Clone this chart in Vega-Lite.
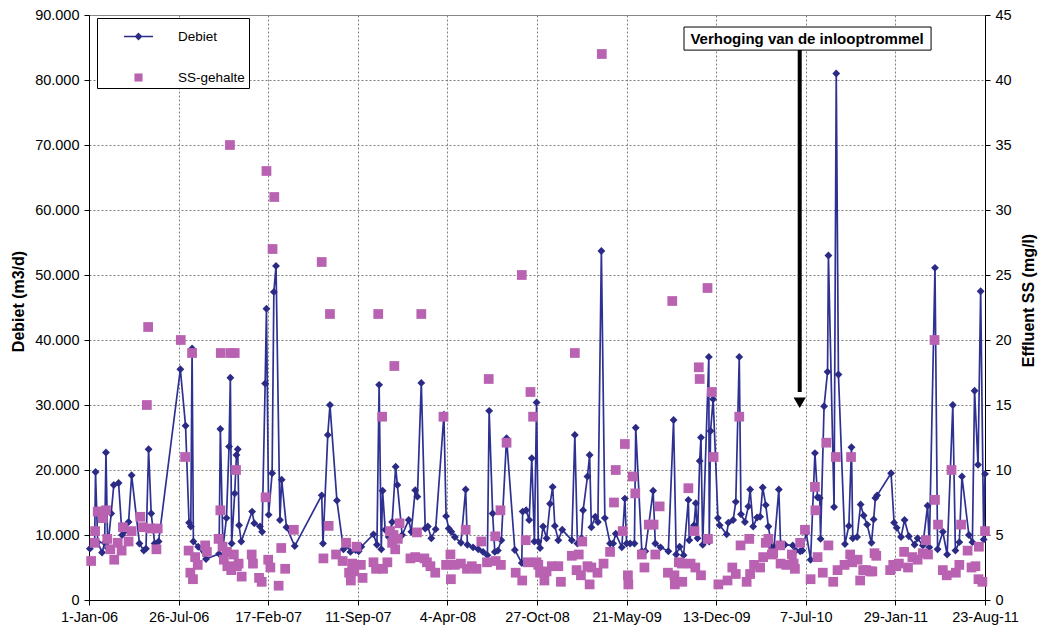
{
"$schema": "https://vega.github.io/schema/vega-lite/v6.json",
"width": 896, "height": 585,
"autosize": {"type": "none"},
"padding": {"left": 89, "top": 15, "right": 53, "bottom": 30},
"background": "white",
"config": {
  "font": "Liberation Sans",
  "view": {"stroke": "#8c8c8c", "strokeWidth": 1},
  "axis": {"labelFont": "Liberation Sans", "titleFont": "Liberation Sans", "labelColor": "black", "titleColor": "black", "domainColor": "black", "tickColor": "black", "labelFontSize": 14.5, "titleFontSize": 16, "titleFontWeight": "bold", "gridColor": "#808080", "gridDash": [2, 2], "gridWidth": 1, "tickSize": 5, "labelPadding": 5, "domainWidth": 1}
},
"datasets": {
"debiet": [
{"datum":"2006-01-03","debiet":7900},{"datum":"2006-01-14","debiet":8700},{"datum":"2006-01-16","debiet":19700},{"datum":"2006-01-21","debiet":8900},{"datum":"2006-01-31","debiet":7300},{"datum":"2006-02-06","debiet":8800},{"datum":"2006-02-09","debiet":22700},{"datum":"2006-02-13","debiet":8000},{"datum":"2006-02-21","debiet":13300},{"datum":"2006-02-27","debiet":17700},{"datum":"2006-03-10","debiet":18000},{"datum":"2006-03-18","debiet":10000},{"datum":"2006-03-23","debiet":10500},{"datum":"2006-04-02","debiet":12000},{"datum":"2006-04-09","debiet":19200},{"datum":"2006-04-27","debiet":8700},{"datum":"2006-05-07","debiet":7600},{"datum":"2006-05-12","debiet":7900},{"datum":"2006-05-18","debiet":23200},{"datum":"2006-05-24","debiet":13300},{"datum":"2006-06-01","debiet":8700},{"datum":"2006-06-10","debiet":9000},{"datum":"2006-07-30","debiet":35500},{"datum":"2006-08-11","debiet":26800},{"datum":"2006-08-19","debiet":11900},{"datum":"2006-08-23","debiet":11300},{"datum":"2006-08-26","debiet":38700},{"datum":"2006-08-29","debiet":9000},{"datum":"2006-09-09","debiet":8200},{"datum":"2006-09-27","debiet":6300},{"datum":"2006-10-27","debiet":7100},{"datum":"2006-10-30","debiet":26300},{"datum":"2006-11-05","debiet":8000},{"datum":"2006-11-13","debiet":12600},{"datum":"2006-11-19","debiet":23600},{"datum":"2006-11-22","debiet":34200},{"datum":"2006-11-25","debiet":8700},{"datum":"2006-12-02","debiet":16400},{"datum":"2006-12-06","debiet":22300},{"datum":"2006-12-09","debiet":23200},{"datum":"2006-12-12","debiet":11500},{"datum":"2006-12-17","debiet":9000},
{"datum":"2007-01-11","debiet":13600},{"datum":"2007-01-16","debiet":11800},{"datum":"2007-01-29","debiet":11300},{"datum":"2007-02-03","debiet":10500},{"datum":"2007-02-10","debiet":33300},{"datum":"2007-02-13","debiet":44800},{"datum":"2007-02-18","debiet":13100},{"datum":"2007-02-26","debiet":19500},{"datum":"2007-03-02","debiet":47400},{"datum":"2007-03-07","debiet":51400},{"datum":"2007-03-16","debiet":12300},{"datum":"2007-03-20","debiet":18500},{"datum":"2007-03-31","debiet":11200},{"datum":"2007-04-19","debiet":8300},{"datum":"2007-06-20","debiet":16100},{"datum":"2007-06-23","debiet":8700},{"datum":"2007-07-04","debiet":25400},{"datum":"2007-07-09","debiet":30000},{"datum":"2007-07-25","debiet":15300},{"datum":"2007-08-09","debiet":7800},{"datum":"2007-08-18","debiet":8400},{"datum":"2007-08-25","debiet":7400},{"datum":"2007-09-06","debiet":7700},{"datum":"2007-09-13","debiet":7500},{"datum":"2007-09-19","debiet":8200},{"datum":"2007-10-17","debiet":10100},{"datum":"2007-10-25","debiet":8500},{"datum":"2007-10-30","debiet":33100},{"datum":"2007-11-04","debiet":7800},{"datum":"2007-11-07","debiet":16800},{"datum":"2007-11-13","debiet":10800},{"datum":"2007-11-21","debiet":9700},{"datum":"2007-11-29","debiet":12000},{"datum":"2007-12-07","debiet":20500},{"datum":"2007-12-11","debiet":17700},{"datum":"2007-12-22","debiet":10000},
{"datum":"2008-01-06","debiet":12300},{"datum":"2008-01-12","debiet":10500},{"datum":"2008-01-21","debiet":16900},{"datum":"2008-01-26","debiet":15900},{"datum":"2008-02-04","debiet":33400},{"datum":"2008-02-13","debiet":11000},{"datum":"2008-02-19","debiet":11300},{"datum":"2008-02-27","debiet":9500},{"datum":"2008-03-08","debiet":10900},{"datum":"2008-03-27","debiet":28500},{"datum":"2008-04-01","debiet":12900},{"datum":"2008-04-07","debiet":11000},{"datum":"2008-04-13","debiet":10500},{"datum":"2008-04-21","debiet":9700},{"datum":"2008-05-05","debiet":8800},{"datum":"2008-05-16","debiet":17000},{"datum":"2008-05-20","debiet":8500},{"datum":"2008-06-02","debiet":8100},{"datum":"2008-06-14","debiet":7800},{"datum":"2008-06-25","debiet":7400},{"datum":"2008-07-05","debiet":6900},{"datum":"2008-07-09","debiet":29100},{"datum":"2008-07-17","debiet":13300},{"datum":"2008-07-22","debiet":7400},{"datum":"2008-07-29","debiet":7600},{"datum":"2008-08-06","debiet":9200},{"datum":"2008-08-18","debiet":24900},{"datum":"2008-09-06","debiet":7700},{"datum":"2008-09-22","debiet":5700},{"datum":"2008-09-24","debiet":13600},{"datum":"2008-10-02","debiet":13800},{"datum":"2008-10-09","debiet":12300},{"datum":"2008-10-15","debiet":21800},{"datum":"2008-10-21","debiet":9000},{"datum":"2008-10-26","debiet":30400},{"datum":"2008-10-30","debiet":9000},{"datum":"2008-11-03","debiet":8000},{"datum":"2008-11-10","debiet":11300},{"datum":"2008-11-18","debiet":9500},{"datum":"2008-11-26","debiet":14800},{"datum":"2008-12-02","debiet":17400},{"datum":"2008-12-07","debiet":11400},{"datum":"2008-12-15","debiet":9200},{"datum":"2008-12-24","debiet":10800},
{"datum":"2009-01-15","debiet":9200},{"datum":"2009-01-22","debiet":25400},{"datum":"2009-01-28","debiet":8700},{"datum":"2009-02-06","debiet":9500},{"datum":"2009-02-10","debiet":13800},{"datum":"2009-02-20","debiet":19000},{"datum":"2009-02-25","debiet":22300},{"datum":"2009-03-01","debiet":11200},{"datum":"2009-03-10","debiet":12800},{"datum":"2009-03-16","debiet":12000},{"datum":"2009-03-24","debiet":53700},{"datum":"2009-04-01","debiet":12600},{"datum":"2009-04-13","debiet":8700},{"datum":"2009-04-20","debiet":8700},{"datum":"2009-04-26","debiet":10200},{"datum":"2009-05-10","debiet":8100},{"datum":"2009-05-17","debiet":15600},{"datum":"2009-05-21","debiet":8700},{"datum":"2009-05-29","debiet":8700},{"datum":"2009-06-08","debiet":8700},{"datum":"2009-06-11","debiet":26500},{"datum":"2009-06-25","debiet":7500},{"datum":"2009-07-03","debiet":7500},{"datum":"2009-07-21","debiet":16800},{"datum":"2009-07-26","debiet":8700},{"datum":"2009-08-07","debiet":8100},{"datum":"2009-08-25","debiet":7500},{"datum":"2009-09-06","debiet":27700},{"datum":"2009-09-12","debiet":7000},{"datum":"2009-09-20","debiet":8200},{"datum":"2009-09-29","debiet":6900},{"datum":"2009-10-10","debiet":15400},{"datum":"2009-10-12","debiet":9200},{"datum":"2009-10-23","debiet":11500},{"datum":"2009-10-27","debiet":14900},{"datum":"2009-10-31","debiet":9500},{"datum":"2009-11-05","debiet":21400},{"datum":"2009-11-08","debiet":25000},{"datum":"2009-11-12","debiet":8500},{"datum":"2009-11-26","debiet":37400},{"datum":"2009-11-27","debiet":9000},{"datum":"2009-11-30","debiet":26000},{"datum":"2009-12-06","debiet":30900},{"datum":"2009-12-17","debiet":12600},{"datum":"2009-12-21","debiet":11500},
{"datum":"2010-01-06","debiet":10100},{"datum":"2010-01-10","debiet":11900},{"datum":"2010-01-21","debiet":12300},{"datum":"2010-01-27","debiet":15100},{"datum":"2010-02-04","debiet":37400},{"datum":"2010-02-08","debiet":13200},{"datum":"2010-02-17","debiet":12000},{"datum":"2010-02-25","debiet":14400},{"datum":"2010-03-01","debiet":17000},{"datum":"2010-03-08","debiet":11300},{"datum":"2010-03-17","debiet":12700},{"datum":"2010-03-24","debiet":12800},{"datum":"2010-03-30","debiet":17300},{"datum":"2010-04-06","debiet":14600},{"datum":"2010-04-12","debiet":11300},{"datum":"2010-04-20","debiet":8000},{"datum":"2010-04-25","debiet":8200},{"datum":"2010-05-06","debiet":17000},{"datum":"2010-05-10","debiet":8700},{"datum":"2010-05-20","debiet":8500},{"datum":"2010-06-07","debiet":8400},{"datum":"2010-06-14","debiet":7600},{"datum":"2010-06-24","debiet":7500},{"datum":"2010-06-29","debiet":7600},{"datum":"2010-07-08","debiet":10300},{"datum":"2010-07-18","debiet":6200},{"datum":"2010-07-28","debiet":22600},{"datum":"2010-08-03","debiet":15800},{"datum":"2010-08-08","debiet":15700},{"datum":"2010-08-10","debiet":9400},{"datum":"2010-08-18","debiet":29800},{"datum":"2010-08-26","debiet":35100},{"datum":"2010-08-28","debiet":53000},{"datum":"2010-09-10","debiet":14300},{"datum":"2010-09-15","debiet":81000},{"datum":"2010-09-20","debiet":34700},{"datum":"2010-10-05","debiet":8600},{"datum":"2010-10-14","debiet":11400},{"datum":"2010-10-20","debiet":23500},{"datum":"2010-10-23","debiet":9500},{"datum":"2010-11-02","debiet":9700},{"datum":"2010-11-10","debiet":14700},{"datum":"2010-11-17","debiet":13000},{"datum":"2010-11-25","debiet":11600},{"datum":"2010-12-05","debiet":8800},{"datum":"2010-12-10","debiet":12400},{"datum":"2010-12-14","debiet":15700},{"datum":"2010-12-18","debiet":16100},
{"datum":"2011-01-19","debiet":19500},{"datum":"2011-01-26","debiet":11900},{"datum":"2011-02-01","debiet":11100},{"datum":"2011-02-11","debiet":9700},{"datum":"2011-02-19","debiet":12300},{"datum":"2011-03-01","debiet":9800},{"datum":"2011-03-14","debiet":8500},{"datum":"2011-03-21","debiet":9500},{"datum":"2011-04-02","debiet":8400},{"datum":"2011-04-13","debiet":14500},{"datum":"2011-04-17","debiet":8100},{"datum":"2011-04-30","debiet":51100},{"datum":"2011-05-06","debiet":7800},{"datum":"2011-05-18","debiet":10500},{"datum":"2011-05-28","debiet":7000},{"datum":"2011-06-10","debiet":30000},{"datum":"2011-06-16","debiet":7600},{"datum":"2011-06-25","debiet":8900},{"datum":"2011-07-01","debiet":19000},{"datum":"2011-07-17","debiet":10000},{"datum":"2011-07-25","debiet":8900},{"datum":"2011-07-30","debiet":32200},{"datum":"2011-08-07","debiet":20800},{"datum":"2011-08-13","debiet":47500},{"datum":"2011-08-20","debiet":9300},{"datum":"2011-08-23","debiet":19400}
],
"ss": [
{"datum":"2006-01-06","ss":3.0},{"datum":"2006-01-14","ss":4.4},{"datum":"2006-01-15","ss":5.3},{"datum":"2006-01-21","ss":6.8},{"datum":"2006-01-31","ss":6.8},{"datum":"2006-02-02","ss":6.3},{"datum":"2006-02-09","ss":6.9},{"datum":"2006-02-12","ss":4.7},{"datum":"2006-02-19","ss":3.9},{"datum":"2006-02-28","ss":3.1},{"datum":"2006-03-08","ss":4.4},{"datum":"2006-03-17","ss":3.8},{"datum":"2006-03-20","ss":5.6},{"datum":"2006-04-02","ss":4.5},{"datum":"2006-04-09","ss":5.3},{"datum":"2006-04-29","ss":6.4},{"datum":"2006-05-05","ss":5.6},{"datum":"2006-05-14","ss":15.0},{"datum":"2006-05-17","ss":21.0},{"datum":"2006-05-22","ss":5.5},{"datum":"2006-06-05","ss":3.9},{"datum":"2006-06-08","ss":5.5},{"datum":"2006-07-31","ss":20.0},{"datum":"2006-08-10","ss":11.0},{"datum":"2006-08-18","ss":3.8},{"datum":"2006-08-22","ss":2.1},{"datum":"2006-08-26","ss":19.0},{"datum":"2006-08-28","ss":1.6},{"datum":"2006-09-02","ss":3.3},{"datum":"2006-09-08","ss":2.7},{"datum":"2006-09-25","ss":4.2},{"datum":"2006-09-29","ss":3.7},{"datum":"2006-10-26","ss":4.7},{"datum":"2006-10-30","ss":6.9},{"datum":"2006-10-31","ss":19.0},{"datum":"2006-11-04","ss":4.1},{"datum":"2006-11-07","ss":3.1},{"datum":"2006-11-14","ss":3.7},{"datum":"2006-11-15","ss":2.6},{"datum":"2006-11-21","ss":35.0},{"datum":"2006-11-23","ss":19.0},{"datum":"2006-11-24","ss":2.3},{"datum":"2006-11-30","ss":3.5},{"datum":"2006-12-02","ss":19.0},{"datum":"2006-12-05","ss":10.0},{"datum":"2006-12-07","ss":2.6},{"datum":"2006-12-11","ss":2.8},{"datum":"2006-12-18","ss":1.8},
{"datum":"2007-01-10","ss":3.5},{"datum":"2007-01-13","ss":2.8},{"datum":"2007-01-27","ss":1.7},{"datum":"2007-02-02","ss":1.4},{"datum":"2007-02-11","ss":7.9},{"datum":"2007-02-13","ss":33.0},{"datum":"2007-02-17","ss":3.1},{"datum":"2007-02-22","ss":2.5},{"datum":"2007-02-27","ss":27.0},{"datum":"2007-03-03","ss":31.0},{"datum":"2007-03-13","ss":1.1},{"datum":"2007-03-19","ss":4.0},{"datum":"2007-03-28","ss":2.4},{"datum":"2007-04-17","ss":5.4},{"datum":"2007-06-20","ss":26.0},{"datum":"2007-06-24","ss":3.2},{"datum":"2007-07-06","ss":5.7},{"datum":"2007-07-09","ss":22.0},{"datum":"2007-07-23","ss":3.5},{"datum":"2007-08-07","ss":3.0},{"datum":"2007-08-15","ss":4.4},{"datum":"2007-08-22","ss":2.1},{"datum":"2007-08-26","ss":1.5},{"datum":"2007-08-29","ss":2.8},{"datum":"2007-09-03","ss":2.2},{"datum":"2007-09-08","ss":4.1},{"datum":"2007-09-18","ss":2.7},{"datum":"2007-09-22","ss":1.7},{"datum":"2007-10-17","ss":2.9},{"datum":"2007-10-23","ss":2.4},{"datum":"2007-10-28","ss":22.0},{"datum":"2007-11-06","ss":14.1},{"datum":"2007-11-08","ss":2.4},{"datum":"2007-11-18","ss":2.9},{"datum":"2007-11-24","ss":5.3},{"datum":"2007-11-29","ss":4.4},{"datum":"2007-12-02","ss":5.0},{"datum":"2007-12-04","ss":18.0},{"datum":"2007-12-06","ss":3.9},{"datum":"2007-12-12","ss":4.7},{"datum":"2007-12-16","ss":5.9},
{"datum":"2008-01-10","ss":3.2},{"datum":"2008-01-21","ss":3.3},{"datum":"2008-01-25","ss":5.2},{"datum":"2008-02-04","ss":22.0},{"datum":"2008-02-11","ss":3.2},{"datum":"2008-02-17","ss":2.9},{"datum":"2008-02-25","ss":2.6},{"datum":"2008-03-07","ss":2.1},{"datum":"2008-03-26","ss":14.1},{"datum":"2008-04-01","ss":2.7},{"datum":"2008-04-11","ss":3.5},{"datum":"2008-04-12","ss":1.6},{"datum":"2008-04-21","ss":2.7},{"datum":"2008-05-05","ss":2.8},{"datum":"2008-05-16","ss":5.4},{"datum":"2008-05-19","ss":2.4},{"datum":"2008-05-30","ss":2.6},{"datum":"2008-06-10","ss":2.4},{"datum":"2008-06-21","ss":4.5},{"datum":"2008-07-04","ss":2.9},{"datum":"2008-07-08","ss":17.0},{"datum":"2008-07-23","ss":4.9},{"datum":"2008-07-24","ss":3.0},{"datum":"2008-08-04","ss":6.9},{"datum":"2008-08-05","ss":2.7},{"datum":"2008-08-18","ss":12.1},{"datum":"2008-09-08","ss":2.1},{"datum":"2008-09-22","ss":25.0},{"datum":"2008-09-23","ss":1.5},{"datum":"2008-10-01","ss":4.6},{"datum":"2008-10-06","ss":2.9},{"datum":"2008-10-12","ss":16.0},{"datum":"2008-10-18","ss":14.1},{"datum":"2008-10-26","ss":2.9},{"datum":"2008-10-30","ss":2.7},{"datum":"2008-11-03","ss":2.1},{"datum":"2008-11-13","ss":1.5},{"datum":"2008-11-18","ss":2.2},{"datum":"2008-11-30","ss":2.6},{"datum":"2008-12-15","ss":2.6},{"datum":"2008-12-21","ss":1.4},
{"datum":"2009-01-15","ss":3.4},{"datum":"2009-01-22","ss":19.0},{"datum":"2009-01-26","ss":2.3},{"datum":"2009-01-31","ss":3.5},{"datum":"2009-02-05","ss":1.9},{"datum":"2009-02-08","ss":4.5},{"datum":"2009-02-20","ss":2.6},{"datum":"2009-02-25","ss":1.2},{"datum":"2009-03-01","ss":2.5},{"datum":"2009-03-15","ss":2.1},{"datum":"2009-03-25","ss":42.0},{"datum":"2009-03-29","ss":2.8},{"datum":"2009-04-13","ss":3.7},{"datum":"2009-04-22","ss":7.5},{"datum":"2009-04-26","ss":10.0},{"datum":"2009-05-12","ss":5.3},{"datum":"2009-05-17","ss":12.0},{"datum":"2009-05-24","ss":1.9},{"datum":"2009-05-25","ss":1.2},{"datum":"2009-06-04","ss":9.5},{"datum":"2009-06-10","ss":8.2},{"datum":"2009-06-25","ss":3.5},{"datum":"2009-07-01","ss":2.5},{"datum":"2009-07-11","ss":5.8},{"datum":"2009-07-22","ss":5.8},{"datum":"2009-07-26","ss":3.5},{"datum":"2009-08-05","ss":7.2},{"datum":"2009-08-24","ss":2.1},{"datum":"2009-09-03","ss":23.0},{"datum":"2009-09-08","ss":1.9},{"datum":"2009-09-09","ss":1.2},{"datum":"2009-09-18","ss":2.9},{"datum":"2009-09-25","ss":2.8},{"datum":"2009-09-26","ss":1.4},{"datum":"2009-10-10","ss":8.6},{"datum":"2009-10-15","ss":2.8},{"datum":"2009-10-24","ss":5.3},{"datum":"2009-10-26","ss":2.5},{"datum":"2009-11-03","ss":17.9},{"datum":"2009-11-05","ss":17.0},{"datum":"2009-11-08","ss":1.9},{"datum":"2009-11-23","ss":24.0},{"datum":"2009-11-24","ss":4.7},{"datum":"2009-12-03","ss":16.0},{"datum":"2009-12-07","ss":11.0},{"datum":"2009-12-18","ss":1.2},
{"datum":"2010-01-08","ss":1.5},{"datum":"2010-01-19","ss":2.5},{"datum":"2010-01-27","ss":2.0},{"datum":"2010-02-04","ss":14.1},{"datum":"2010-02-07","ss":4.2},{"datum":"2010-02-21","ss":1.4},{"datum":"2010-02-27","ss":4.7},{"datum":"2010-03-01","ss":2.0},{"datum":"2010-03-10","ss":2.7},{"datum":"2010-03-24","ss":2.5},{"datum":"2010-03-31","ss":3.3},{"datum":"2010-04-06","ss":4.4},{"datum":"2010-04-12","ss":4.7},{"datum":"2010-04-20","ss":3.5},{"datum":"2010-04-23","ss":3.6},{"datum":"2010-05-09","ss":4.2},{"datum":"2010-05-10","ss":2.8},{"datum":"2010-05-23","ss":2.7},{"datum":"2010-06-05","ss":3.5},{"datum":"2010-06-09","ss":2.8},{"datum":"2010-06-12","ss":2.4},{"datum":"2010-06-24","ss":4.4},{"datum":"2010-07-05","ss":5.4},{"datum":"2010-07-18","ss":1.6},{"datum":"2010-07-28","ss":8.7},{"datum":"2010-07-29","ss":6.9},{"datum":"2010-08-03","ss":3.3},{"datum":"2010-08-15","ss":2.1},{"datum":"2010-08-23","ss":12.1},{"datum":"2010-08-28","ss":4.2},{"datum":"2010-09-08","ss":1.4},{"datum":"2010-09-14","ss":11.0},{"datum":"2010-09-18","ss":2.3},{"datum":"2010-10-04","ss":2.7},{"datum":"2010-10-17","ss":3.5},{"datum":"2010-10-19","ss":11.0},{"datum":"2010-10-22","ss":2.9},{"datum":"2010-11-03","ss":3.1},{"datum":"2010-11-09","ss":1.5},{"datum":"2010-11-16","ss":2.3},{"datum":"2010-11-23","ss":2.3},{"datum":"2010-12-02","ss":2.2},{"datum":"2010-12-07","ss":2.2},{"datum":"2010-12-12","ss":3.6},{"datum":"2010-12-16","ss":3.4},
{"datum":"2011-01-17","ss":2.3},{"datum":"2011-01-24","ss":2.7},{"datum":"2011-01-31","ss":2.6},{"datum":"2011-02-06","ss":2.8},{"datum":"2011-02-18","ss":3.7},{"datum":"2011-02-27","ss":2.5},{"datum":"2011-03-09","ss":3.3},{"datum":"2011-03-21","ss":3.1},{"datum":"2011-04-02","ss":3.6},{"datum":"2011-04-09","ss":4.6},{"datum":"2011-04-14","ss":3.5},{"datum":"2011-04-29","ss":20.0},{"datum":"2011-04-30","ss":7.7},{"datum":"2011-05-07","ss":5.8},{"datum":"2011-05-18","ss":2.3},{"datum":"2011-05-27","ss":1.9},{"datum":"2011-06-07","ss":10.0},{"datum":"2011-06-17","ss":2.1},{"datum":"2011-06-25","ss":2.7},{"datum":"2011-06-29","ss":5.8},{"datum":"2011-07-14","ss":3.8},{"datum":"2011-07-23","ss":2.5},{"datum":"2011-08-01","ss":2.6},{"datum":"2011-08-08","ss":1.6},{"datum":"2011-08-09","ss":4.1},{"datum":"2011-08-17","ss":1.4},{"datum":"2011-08-23","ss":5.3}
],
"pijl": [{"datum":"2010-06-23","debiet":84600,"debiet_tot":32000}],
"punt": [{"datum":"2010-06-23","debiet":30350}],
"kader": [{"datum":"2009-09-30","datum_tot":"2011-04-21","debiet":84600,"debiet_tot":88150}],
"tekst": [{"datum":"2010-07-10","debiet":86350,"tekst":"Verhoging van de inlooptrommel"}],
"legenda": [{"datum":"1990-01-01","debiet":0,"reeks":"Debiet"},{"datum":"1990-01-01","debiet":0,"reeks":"SS-gehalte"}]
},
"layer": [
{
"layer": [
{"data": {"name": "debiet"}, "mark": {"type": "line", "color": "#2E3192", "strokeWidth": 1.7},
 "encoding": {
  "x": {"field": "datum", "type": "temporal", "title": null, "scale": {"type": "utc", "domain": [{"year": 2006, "month": 1, "date": 1, "utc": true}, {"year": 2011, "month": 8, "date": 23, "utc": true}]},
        "axis": {"values": [{"year": 2006, "month": 1, "date": 1, "utc": true}, {"year": 2006, "month": 7, "date": 26, "utc": true}, {"year": 2007, "month": 2, "date": 17, "utc": true}, {"year": 2007, "month": 9, "date": 11, "utc": true}, {"year": 2008, "month": 4, "date": 4, "utc": true}, {"year": 2008, "month": 10, "date": 27, "utc": true}, {"year": 2009, "month": 5, "date": 21, "utc": true}, {"year": 2009, "month": 12, "date": 13, "utc": true}, {"year": 2010, "month": 7, "date": 7, "utc": true}, {"year": 2011, "month": 1, "date": 29, "utc": true}, {"year": 2011, "month": 8, "date": 23, "utc": true}], "format": "%-d-%b-%y", "labelFlush": false, "labelOverlap": false, "grid": true, "title": null}},
  "y": {"field": "debiet", "type": "quantitative", "title": "Debiet (m3/d)", "scale": {"domain": [0, 90000]},
        "axis": {"orient": "left", "values": [0, 10000, 20000, 30000, 40000, 50000, 60000, 70000, 80000, 90000], "labelExpr": "replace(format(datum.value, ','), ',', '.')", "grid": true, "title": "Debiet (m3/d)", "titleAngle": -90, "titleX": -71, "titleY": 286, "titleAlign": "center", "titleBaseline": "middle"}}
 }},
{"data": {"name": "debiet"}, "mark": {"type": "point", "shape": "diamond", "filled": true, "color": "#2B2B86", "size": 62, "opacity": 1},
 "encoding": {"x": {"field": "datum", "type": "temporal", "title": null}, "y": {"field": "debiet", "type": "quantitative", "title": "Debiet (m3/d)"}}},
{"data": {"name": "pijl"}, "mark": {"type": "rule", "color": "black", "strokeWidth": 4},
 "encoding": {"x": {"field": "datum", "type": "temporal", "title": null}, "y": {"field": "debiet", "type": "quantitative", "title": "Debiet (m3/d)"}, "y2": {"field": "debiet_tot"}}},
{"data": {"name": "punt"}, "mark": {"type": "point", "shape": "triangle-down", "filled": true, "color": "black", "size": 150, "opacity": 1},
 "encoding": {"x": {"field": "datum", "type": "temporal", "title": null}, "y": {"field": "debiet", "type": "quantitative", "title": "Debiet (m3/d)"}}},
{"data": {"name": "kader"}, "mark": {"type": "rect", "fill": "white", "stroke": "black", "strokeWidth": 1},
 "encoding": {"x": {"field": "datum", "type": "temporal", "title": null}, "x2": {"field": "datum_tot"}, "y": {"field": "debiet", "type": "quantitative", "title": "Debiet (m3/d)"}, "y2": {"field": "debiet_tot"}}},
{"data": {"name": "tekst"}, "mark": {"type": "text", "font": "Liberation Sans", "fontSize": 15, "fontWeight": "bold", "color": "black", "align": "center", "baseline": "middle"},
 "encoding": {"x": {"field": "datum", "type": "temporal", "title": null}, "y": {"field": "debiet", "type": "quantitative", "title": "Debiet (m3/d)"}, "text": {"field": "tekst"}}},
{"data": {"name": "legenda"}, "mark": {"type": "point", "filled": true, "clip": true, "opacity": 1},
 "encoding": {"x": {"field": "datum", "type": "temporal", "title": null}, "y": {"field": "debiet", "type": "quantitative", "title": "Debiet (m3/d)"},
  "color": {"field": "reeks", "type": "nominal", "scale": {"domain": ["Debiet", "SS-gehalte"], "range": ["#2B2B86", "#B962B1"]},
    "legend": {"orient": "none", "legendX": 8, "legendY": 3, "title": null, "direction": "vertical", "strokeColor": "black", "fillColor": "white", "padding": 4, "symbolSize": 841, "symbolOffset": 23, "labelOffset": 25, "rowPadding": 20, "labelFontSize": 13.5, "labelFont": "Liberation Sans", "labelColor": "black", "symbolStrokeWidth": 0, "labelExpr": "datum.label + '         '"}},
  "shape": {"field": "reeks", "type": "nominal", "scale": {"domain": ["Debiet", "SS-gehalte"], "range": ["M-1,-0.05L1,-0.05L1,0.05L-1,0.05Z M0,-0.27L0.27,0L0,0.27L-0.27,0Z", "M-0.28,-0.28L0.28,-0.28L0.28,0.28L-0.28,0.28Z"]},
    "legend": {"orient": "none", "legendX": 8, "legendY": 3, "title": null, "direction": "vertical", "strokeColor": "black", "fillColor": "white", "padding": 4, "symbolSize": 841, "symbolOffset": 23, "labelOffset": 25, "rowPadding": 20, "labelFontSize": 13.5, "labelFont": "Liberation Sans", "labelColor": "black", "symbolStrokeWidth": 0, "labelExpr": "datum.label + '         '"}}
 }}
]
},
{"data": {"name": "ss"}, "mark": {"type": "square", "color": "#B962B1", "size": 95, "opacity": 1},
 "encoding": {
  "x": {"field": "datum", "type": "temporal", "title": null},
  "y": {"field": "ss", "type": "quantitative", "title": "Effluent SS (mg/l)", "scale": {"domain": [0, 45]},
        "axis": {"orient": "right", "values": [0, 5, 10, 15, 20, 25, 30, 35, 40, 45], "grid": false, "title": "Effluent SS (mg/l)", "titleAngle": -90, "titleX": 43, "titleY": 285, "titleAlign": "center", "titleBaseline": "middle"}}
 }}
],
"resolve": {"scale": {"y": "independent"}}
}
